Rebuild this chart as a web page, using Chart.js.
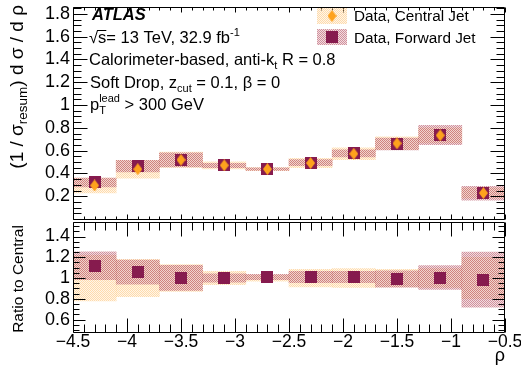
<!DOCTYPE html>
<html>
<head>
<meta charset="utf-8">
<script src="https://cdn.jsdelivr.net/npm/chart.js@4.4.1/dist/chart.umd.min.js"></script>
<style>
  html, body { margin: 0; padding: 0; background: #fff; }
  #wrap { position: relative; width: 521px; height: 372px; overflow: hidden; }
  canvas { position: absolute; left: 0; }
  #mainCanvas { top: 0; }
  #ratioCanvas { top: 200px; }
</style>
</head>
<body>
<div id="wrap">
  <canvas id="mainCanvas" width="521" height="226"></canvas>
  <canvas id="ratioCanvas" width="521" height="172"></canvas>
</div>
<script>
// rho bin centres, bins are 0.4 wide
const rhoBins = [-4.3, -3.9, -3.5, -3.1, -2.7, -2.3, -1.9, -1.5, -1.1, -0.7];
const centralVals = [0.294, 0.437, 0.519, 0.471, 0.438, 0.491, 0.572, 0.664, 0.734, 0.228];
const forwardVals = [0.321, 0.464, 0.518, 0.470, 0.438, 0.494, 0.576, 0.658, 0.737, 0.225];
// relative total uncertainty per bin
const centralRelErr = [0.22, 0.18, 0.13, 0.065, 0.03, 0.085, 0.09, 0.085, 0.09, 0.20];
const forwardRelErr = [0.12, 0.11, 0.12, 0.04, 0.025, 0.055, 0.055, 0.08, 0.115, 0.27];
// forward / central
const ratioVals = [1.118, 1.056, 1.002, 1.0, 1.01, 1.01, 1.01, 0.99, 1.005, 0.984];

const xTicks = [-4.5, -4, -3.5, -3, -2.5, -2, -1.5, -1, -0.5];
const mainYTicks = [0.2, 0.4, 0.6, 0.8, 1, 1.2, 1.4, 1.6, 1.8];
const ratioYTicks = [0.6, 0.8, 1, 1.2, 1.4];

const FONT = '"Liberation Sans", Arial, Helvetica, sans-serif';
Chart.defaults.font.family = FONT;
Chart.defaults.color = '#000';

const PURPLE = '#861b4e';
const ORANGE = '#fea21d';
const TXT = 16.5;

function fnt(size, style) { return (style || '') + ' ' + size + 'px ' + FONT; }

// small fill textures for the uncertainty bands
function hatch(ctx, bg, fg) {
  const t = document.createElement('canvas');
  t.width = 4; t.height = 4;
  const g = t.getContext('2d');
  g.fillStyle = bg; g.fillRect(0, 0, 4, 4);
  g.fillStyle = fg;
  for (let i = 0; i < 4; i++) { g.fillRect(i, i, 1, 1); g.fillRect((i + 2) % 4, i, 1, 1); }
  return ctx.createPattern(t, 'repeat');
}
const orangeHatch = ctx => hatch(ctx, 'rgba(255,228,185,0.35)', 'rgba(254,190,115,0.5)');
const purpleHatch = ctx => hatch(ctx, 'rgba(210,140,150,0.3)', 'rgba(175,65,85,0.48)');

// marker images
const diamond = document.createElement('canvas');
diamond.width = 9; diamond.height = 12;
(function () {
  const g = diamond.getContext('2d');
  g.fillStyle = ORANGE;
  g.beginPath(); g.moveTo(4.5, 0); g.lineTo(9, 6); g.lineTo(4.5, 12); g.lineTo(0, 6); g.closePath(); g.fill();
})();
const square = document.createElement('canvas');
square.width = 12; square.height = 12;
square.getContext('2d').fillStyle = PURPLE;
square.getContext('2d').fillRect(0, 0, 12, 12);

const band = (vals, rel) => rhoBins.map((x, i) => ({ x, y: [vals[i] * (1 - rel[i]), vals[i] * (1 + rel[i])] }));
const pts = vals => rhoBins.map((x, i) => ({ x, y: vals[i] }));

function datasets(ctx, central, forward, cBand, fBand) {
  const barOpts = { grouped: false, barPercentage: 1, categoryPercentage: 1, borderWidth: 0 };
  return [
    { type: 'line', label: 'Data, Central Jet', data: central || [], showLine: false, pointStyle: diamond, pointRadius: 6, order: 0 },
    { type: 'line', label: 'Data, Forward Jet', data: forward, showLine: false, pointStyle: square, pointRadius: 6, order: 1 },
    Object.assign({ label: 'Forward unc.', data: fBand, order: 2, backgroundColor: purpleHatch(ctx) }, barOpts),
    Object.assign({ label: 'Central unc.', data: cBand, order: 3, backgroundColor: orangeHatch(ctx) }, barOpts)
  ];
}

// ROOT style frame with inward ticks on all four sides
function frameTicks(o) {
  return {
    id: 'frameTicks',
    afterDatasetsDraw(chart) {
      const { ctx, chartArea: a, scales: { x, y } } = chart;
      const L = Math.round(a.left) + 0.5, R = Math.round(a.right) - 0.5;
      const T = Math.round(a.top) + 0.5, B = Math.round(a.bottom) + 0.5;
      ctx.save();
      ctx.strokeStyle = '#000';
      ctx.lineWidth = 1;
      ctx.beginPath();
      ctx.rect(L, T, R - L, B - T);
      for (let k = 0; k <= 40; k++) {
        const v = -4.5 + k * 0.1;
        const px = Math.round(x.getPixelForValue(v)) + 0.5;
        const len = k % 5 === 0 ? o.xMajor : o.xMinor;
        ctx.moveTo(px, B); ctx.lineTo(px, B - len);
        ctx.moveTo(px, T); ctx.lineTo(px, T + len);
      }
      for (let k = 0; k <= 40; k++) {
        const v = k * 0.05;
        if (v < y.min - 1e-9 || v > y.max + 1e-9) continue;
        const py = Math.round(y.getPixelForValue(v)) + 0.5;
        const len = k % 4 === 0 ? o.yMajor : o.yMinor;
        ctx.moveTo(L, py); ctx.lineTo(L + len, py);
        ctx.moveTo(R, py); ctx.lineTo(R - len, py);
      }
      ctx.stroke();
      ctx.restore();
    }
  };
}

// text pieces with sub/superscripts; a piece with "keep" does not advance the pen
function rich(ctx, x, y, parts) {
  let cx = x, held = 0;
  for (const p of parts) {
    ctx.font = fnt(p.s || TXT, p.st);
    ctx.fillText(p.t, cx, y + (p.dy || 0));
    const w = ctx.measureText(p.t).width;
    if (p.keep) { held = w; continue; }
    cx += Math.max(w, held);
    held = 0;
  }
  return cx;
}
function richWidth(ctx, parts) {
  let w = 0;
  for (const p of parts) { ctx.font = fnt(p.s || TXT, p.st); w += ctx.measureText(p.t).width; }
  return w;
}

const yScaleFit = s => { s.width = 73; s.paddingTop = 0; s.paddingBottom = 0; };
const numLabel = v => (v < 0 ? '\u2212' : '') + String(Math.abs(+v.toFixed(2)));

// upper panel
const mainCtx = document.getElementById('mainCanvas').getContext('2d');
const orangeLegend = orangeHatch(mainCtx);
const purpleLegend = purpleHatch(mainCtx);

const mainLabels = {
  id: 'mainLabels',
  afterDraw(chart) {
    const ctx = chart.ctx;
    ctx.save();
    ctx.fillStyle = '#000';
    ctx.textBaseline = 'alphabetic';
    rich(ctx, 92, 20, [{ t: 'ATLAS', st: 'italic bold' }]);
    // sqrt(s) with overline
    let cx = rich(ctx, 89, 42.5, [{ t: '\u221A' }]);
    const sW = richWidth(ctx, [{ t: 's' }]);
    ctx.fillRect(cx - 1, 30, sW + 1, 1);
    rich(ctx, cx, 42.5, [{ t: 's= 13 TeV, 32.9 fb' }, { t: '-1', s: 11, dy: -7 }]);
    rich(ctx, 89, 65, [{ t: 'Calorimeter-based, anti-k' }, { t: 't', s: 11, dy: 4 }, { t: ' R = 0.8' }]);
    rich(ctx, 90, 87.5, [{ t: 'Soft Drop, z' }, { t: 'cut', s: 11, dy: 4 }, { t: ' = 0.1, \u03B2 = 0' }]);
    rich(ctx, 90, 110, [{ t: 'p' }, { t: 'lead', s: 11, dy: -8, keep: true }, { t: 'T', s: 11, dy: 4 }, { t: ' > 300 GeV' }]);

    // legend
    ctx.fillStyle = orangeLegend; ctx.fillRect(317, 8, 30, 16);
    ctx.fillStyle = purpleLegend; ctx.fillRect(317, 29, 30, 16);
    ctx.drawImage(diamond, 332 - 4.5, 16 - 6);
    ctx.drawImage(square, 332 - 6, 37 - 6);
    ctx.fillStyle = '#000';
    rich(ctx, 354, 21, [{ t: 'Data, Central Jet', s: 15.3 }]);
    rich(ctx, 354, 42.5, [{ t: 'Data, Forward Jet', s: 15.3 }]);

    // rotated y title, aligned to the top of the axis
    const title = [{ t: '(1 / \u03C3', s: 19 }, { t: 'resum', s: 13.5, dy: 4 }, { t: ') d \u03C3 / d \u03C1', s: 19 }];
    ctx.translate(23, 5);
    ctx.rotate(-Math.PI / 2);
    rich(ctx, -richWidth(ctx, title), 0, title);
    ctx.restore();
  }
};

new Chart(mainCtx, {
  type: 'bar',
  data: {
    datasets: datasets(mainCtx, pts(centralVals), pts(forwardVals),
      band(centralVals, centralRelErr), band(forwardVals, forwardRelErr))
  },
  options: {
    responsive: false,
    animation: false,
    events: [],
    devicePixelRatio: 1,
    layout: { padding: { left: 0, right: 16, top: 5, bottom: 4 } },
    plugins: { legend: { display: false }, tooltip: { enabled: false } },
    scales: {
      x: { type: 'linear', min: -4.5, max: -0.5, offset: false, display: false },
      y: {
        min: 0, max: 1.86,
        afterBuildTicks: s => { s.ticks = mainYTicks.map(v => ({ value: v })); },
        afterFit: yScaleFit,
        grid: { display: false, drawTicks: false },
        border: { display: false },
        ticks: { font: { size: 18 }, padding: 3, callback: numLabel }
      }
    }
  },
  plugins: [frameTicks({ xMajor: 5, xMinor: 3, yMajor: 14, yMinor: 8 }), mainLabels]
});

// ratio panel
const ratioCtx = document.getElementById('ratioCanvas').getContext('2d');
const ratioLabels = {
  id: 'ratioLabels',
  afterDraw(chart) {
    const ctx = chart.ctx;
    ctx.save();
    ctx.fillStyle = '#000';
    ctx.font = fnt(18);
    ctx.textAlign = 'right';
    ctx.fillText('\u03C1', 505, 161);
    ctx.textAlign = 'center';
    ctx.font = fnt(15.5);
    ctx.translate(23, 79);
    ctx.rotate(-Math.PI / 2);
    ctx.fillText('Ratio to Central', 0, 0);
    ctx.restore();
  }
};

const ones = rhoBins.map(() => 1);
new Chart(ratioCtx, {
  type: 'bar',
  data: {
    datasets: datasets(ratioCtx, null, pts(ratioVals),
      band(ones, centralRelErr), band(ratioVals, forwardRelErr))
  },
  options: {
    responsive: false,
    animation: false,
    events: [],
    devicePixelRatio: 1,
    layout: { padding: { left: 0, right: 16, top: 22, bottom: 0 } },
    plugins: { legend: { display: false }, tooltip: { enabled: false } },
    scales: {
      x: {
        type: 'linear', min: -4.5, max: -0.5, offset: false,
        afterBuildTicks: s => { s.ticks = xTicks.map(v => ({ value: v })); },
        afterFit: s => { s.height = 40; s.paddingLeft = 0; s.paddingRight = 0; },
        grid: { display: false, drawTicks: false },
        border: { display: false },
        ticks: { font: { size: 17.5 }, padding: 0, maxRotation: 0, autoSkip: false, callback: numLabel }
      },
      y: {
        min: 0.48, max: 1.54,
        afterBuildTicks: s => { s.ticks = ratioYTicks.map(v => ({ value: v })); },
        afterFit: yScaleFit,
        grid: { display: false, drawTicks: false },
        border: { display: false },
        ticks: { font: { size: 18 }, padding: 3, callback: numLabel }
      }
    }
  },
  plugins: [frameTicks({ xMajor: 14, xMinor: 8, yMajor: 12, yMinor: 6 }), ratioLabels]
});
</script>
</body>
</html>
